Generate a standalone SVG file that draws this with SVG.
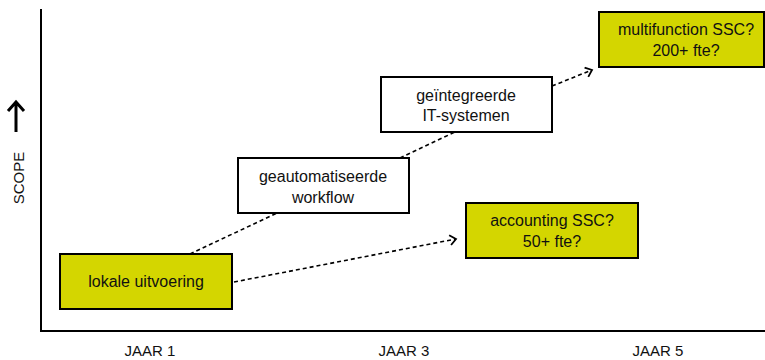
<svg xmlns="http://www.w3.org/2000/svg" width="765" height="360" viewBox="0 0 765 360">
<defs>
<style>
.box{stroke:#000;stroke-width:2}
.yel{fill:#d4d600}
.wht{fill:#fff}
.t{font-family:"Liberation Sans",Arial,sans-serif;font-size:16px;fill:#111;text-anchor:middle}
.ax{font-family:"Liberation Sans",Arial,sans-serif;font-size:15px;fill:#111;text-anchor:middle}
.c{fill:none;stroke:#000;stroke-width:1.6;stroke-dasharray:4 3}
</style>
<marker id="ah" markerWidth="10" markerHeight="12" refX="7" refY="6" orient="auto" markerUnits="userSpaceOnUse">
<path d="M1,1 L7,6 L1,11" fill="none" stroke="#000" stroke-width="1.8"/>
</marker>
</defs>
<rect width="765" height="360" fill="#fff"/>
<g id="axes">
<path d="M41,9 V331 H765" fill="none" stroke="#000" stroke-width="2"/>
<path d="M16,132 V103 M8,111 L16,102 L24,111" fill="none" stroke="#000" stroke-width="3"/>
<text class="ax" transform="translate(24,178) rotate(-90)" font-size="14">SCOPE</text>
<text class="ax" x="150" y="356">JAAR 1</text>
<text class="ax" x="404" y="356">JAAR 3</text>
<text class="ax" x="658" y="356">JAAR 5</text>
</g>
<g id="connectors">
<path class="c" d="M190,254 L277,213"/>
<path class="c" d="M400,158 L455,132"/>
<path class="c" d="M552,86 L592,70" marker-end="url(#ah)"/>
<path class="c" d="M234,282 L456,239" marker-end="url(#ah)"/>
</g>
<g id="lokale">
<rect class="box yel" x="60" y="254" width="172" height="55"/>
<text class="t" x="146" y="287">lokale uitvoering</text>
</g>
<g id="workflow">
<rect class="box wht" x="238" y="158" width="171" height="55"/>
<text class="t" x="323" y="182">geautomatiseerde</text>
<text class="t" x="323" y="203">workflow</text>
</g>
<g id="it">
<rect class="box wht" x="381" y="77" width="171" height="55"/>
<text class="t" x="466" y="101">geïntegreerde</text>
<text class="t" x="466" y="121">IT-systemen</text>
</g>
<g id="multifunction">
<rect class="box yel" x="599" y="12" width="165" height="55"/>
<text class="t" x="686" y="35">multifunction SSC?</text>
<text class="t" x="686" y="56">200+ fte?</text>
</g>
<g id="accounting">
<rect class="box yel" x="466" y="203" width="172" height="55"/>
<text class="t" x="552" y="226">accounting SSC?</text>
<text class="t" x="552" y="247">50+ fte?</text>
</g>
</svg>
